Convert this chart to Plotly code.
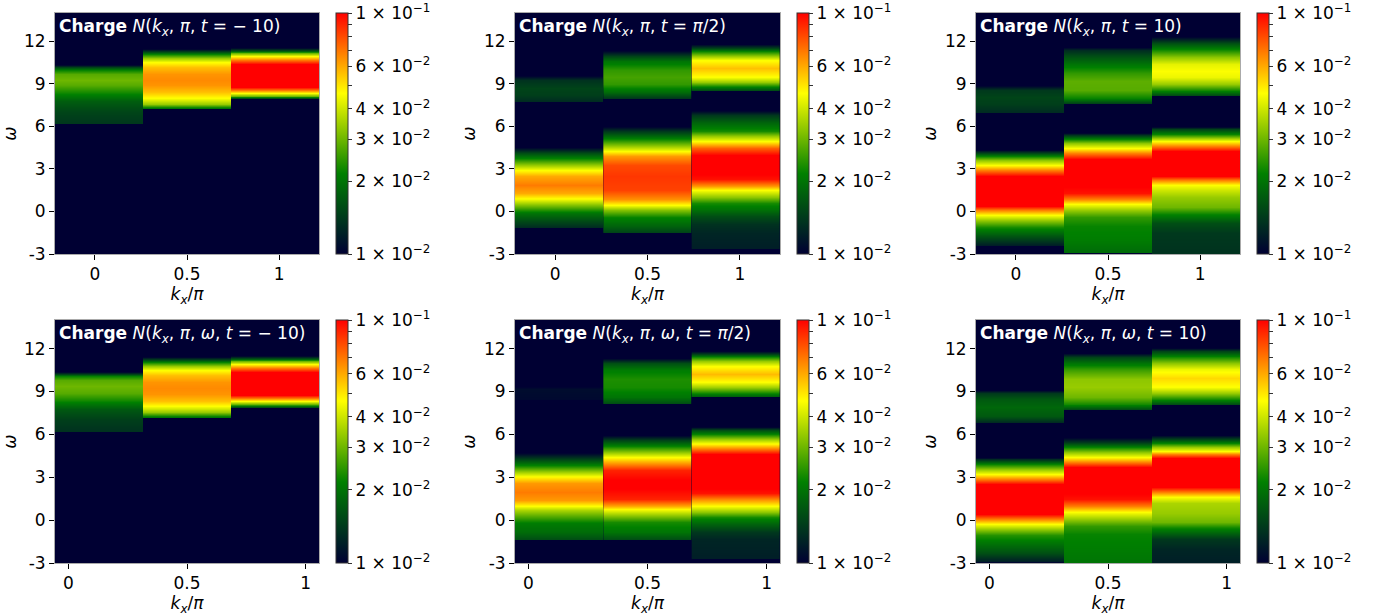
import numpy as np
import plotly.graph_objects as go

# ---------------- data ----------------
KX = [0, 0.5, 1]
KX_TICKTEXT = ["0", "0.5", "1"]
OMEGA_TICKS = [-3, 0, 3, 6, 9, 12]
OMEGA_TICKTEXT = ["-3", "0", "3", "6", "9", "12"]
CBAR_TICKS = [0.01, 0.02, 0.03, 0.04, 0.05, 0.06, 0.07, 0.08, 0.09, 0.1]
CBAR_TICKTEXT = ["1 × 10<sup>−2</sup>", "2 × 10<sup>−2</sup>", "3 × 10<sup>−2</sup>",
                 "4 × 10<sup>−2</sup>", "", "6 × 10<sup>−2</sup>", "", "", "",
                 "1 × 10<sup>−1</sup>"]

TITLES = [
    "<b>Charge</b> <i>N</i>(<i>k</i><sub><i>x</i></sub>, <i>π</i>, <i>t</i> = − 10)",
    "<b>Charge</b> <i>N</i>(<i>k</i><sub><i>x</i></sub>, <i>π</i>, <i>t</i> = <i>π</i>/2)",
    "<b>Charge</b> <i>N</i>(<i>k</i><sub><i>x</i></sub>, <i>π</i>, <i>t</i> = 10)",
    "<b>Charge</b> <i>N</i>(<i>k</i><sub><i>x</i></sub>, <i>π</i>, <i>ω</i>, <i>t</i> = − 10)",
    "<b>Charge</b> <i>N</i>(<i>k</i><sub><i>x</i></sub>, <i>π</i>, <i>ω</i>, <i>t</i> = <i>π</i>/2)",
    "<b>Charge</b> <i>N</i>(<i>k</i><sub><i>x</i></sub>, <i>π</i>, <i>ω</i>, <i>t</i> = 10)",
]

# Profiles N(omega) per panel (P) and kx column (_0: kx=0, _1: 0.5, _2: 1).
# N values are in units of 1e-2 (values below 1 are under the colour floor).
# Panel 1: t = -10
W1_0 = [-3, 6.15, 6.25, 7.0, 7.8, 8.4, 8.9, 9.3, 9.7, 10.0, 10.2, 10.4, 14]
N1_0 = [0.5, 0.5, 1.4, 1.5, 1.75, 2.3, 2.8, 3.0, 2.8, 2.2, 1.5, 0.9, 0.5]
W1_1 = [-3, 7.2, 7.28, 7.6, 8.0, 8.4, 8.9, 9.3, 9.7, 10.2, 10.55, 10.85, 11.1, 11.3, 11.5, 14]
N1_1 = [0.5, 0.5, 2.0, 3.4, 4.6, 5.6, 6.4, 6.6, 6.4, 5.6, 4.6, 3.4, 2.2, 1.4, 0.9, 0.5]
W1_2 = [-3, 7.9, 7.98, 8.15, 8.35, 8.6, 8.8, 9.6, 10.4, 10.7, 10.95, 11.15, 11.35, 11.6, 14]
N1_2 = [0.5, 0.5, 1.6, 3.0, 4.6, 7.0, 10, 13, 10, 7.0, 4.6, 3.0, 1.8, 0.9, 0.5]

# Panel 2: t = pi/2
W2_0 = [-3, -1.2, -1.1, -0.6, -0.1, 0.4, 0.85, 1.3, 1.9, 2.5, 2.9, 3.3, 3.7, 4.1, 4.6,
        7.7, 7.78, 8.2, 8.7, 9.3, 9.7, 14]
N2_0 = [0.5, 0.5, 1.3, 1.6, 2.0, 3.0, 4.5, 6.0, 6.9, 6.0, 4.6, 3.4, 2.3, 1.6, 0.9,
        0.5, 1.3, 1.45, 1.5, 1.35, 0.9, 0.5]
W2_1 = [-3, -1.5, -1.42, -1.0, -0.4, 0.1, 0.45, 0.85, 1.5, 2.5, 3.3, 3.9, 4.3, 4.7, 5.2, 5.7, 6.1,
        7.9, 8.0, 8.4, 9.0, 9.5, 10.0, 10.6, 11.0, 11.45, 14]
N2_1 = [0.5, 0.5, 1.5, 1.8, 2.2, 3.2, 4.6, 6.5, 8.2, 8.5, 8.0, 6.3, 4.6, 3.2, 2.1, 1.4, 0.9,
        0.5, 1.4, 1.9, 2.5, 2.65, 2.5, 2.0, 1.5, 0.9, 0.5]
W2_2 = [-3, -2.75, -2.6, -1.5, -0.9, -0.3, 0.2, 0.6, 1.0, 1.5, 1.8, 2.3, 3.2, 4.0, 4.5, 4.95,
        5.3, 5.7, 6.3, 6.8, 7.2,
        8.5, 8.6, 8.85, 9.15, 9.5, 10.1, 10.7, 11.0, 11.3, 11.55, 11.85, 14]
N2_2 = [0.5, 0.5, 1.2, 1.25, 1.35, 1.6, 2.0, 2.3, 3.3, 4.6, 6.3, 9.5, 11, 10, 7.5, 4.6,
        3.4, 2.3, 1.8, 1.4, 0.9,
        0.5, 1.6, 2.3, 3.4, 4.6, 5.6, 4.6, 3.4, 2.2, 1.5, 0.9, 0.5]

# Panel 3: t = 10
W3_0 = [-3, -2.5, -2.35, -1.8, -1.1, -0.6, -0.25, 0.1, 0.4, 1.5, 2.5, 2.9, 3.25, 3.6, 3.9, 4.25, 4.4,
        6.95, 7.05, 7.6, 8.1, 8.6, 9.0, 14]
N3_0 = [0.5, 0.5, 1.2, 1.6, 2.3, 3.4, 4.6, 6.8, 10, 14, 10, 6.8, 4.6, 3.3, 2.2, 1.2, 0.9,
        0.5, 1.3, 1.45, 1.5, 1.4, 0.9, 0.5]
W3_1 = [-3, -2.9, -2.85, -2.0, -1.0, -0.4, 0.1, 0.5, 0.9, 1.3, 2.5, 3.7, 4.1, 4.45, 4.8, 5.1, 5.4, 5.6,
        7.55, 7.64, 8.0, 8.6, 9.2, 9.8, 10.4, 11.0, 11.4, 11.7, 14]
N3_1 = [0.5, 0.5, 1.9, 2.1, 2.2, 2.5, 3.4, 4.6, 6.8, 9.5, 11, 10, 6.8, 4.6, 3.3, 2.2, 1.4, 0.9,
        0.5, 1.5, 2.2, 2.8, 2.85, 2.5, 2.0, 1.6, 1.3, 0.9, 0.5]
W3_2 = [-3, -1.5, -0.8, -0.2, 0.3, 1.0, 1.5, 1.85, 2.2, 2.5, 3.5, 4.3, 4.6, 4.95, 5.2, 5.5, 5.8, 6.05,
        8.15, 8.25, 8.55, 9.0, 9.5, 9.9, 10.4, 10.9, 11.4, 11.9, 12.45, 14]
N3_2 = [1.35, 1.4, 1.6, 2.2, 3.0, 3.4, 4.0, 4.6, 6.8, 10, 13, 10, 6.8, 4.6, 3.4, 2.2, 1.5, 0.9,
        0.5, 1.6, 2.3, 3.4, 4.4, 4.6, 4.3, 3.3, 2.3, 1.6, 0.9, 0.5]

# Panel 4: omega-resolved, t = -10
W4_0 = [-3, 6.15, 6.25, 7.0, 7.8, 8.4, 8.9, 9.4, 9.8, 10.05, 10.25, 10.45, 14]
N4_0 = [0.5, 0.5, 1.35, 1.45, 1.7, 2.3, 2.8, 3.0, 2.8, 2.2, 1.5, 0.9, 0.5]
W4_1 = [-3, 7.15, 7.23, 7.55, 7.95, 8.35, 8.85, 9.25, 9.65, 10.15, 10.5, 10.8, 11.05, 11.25, 11.45, 14]
N4_1 = [0.5, 0.5, 2.0, 3.4, 4.6, 5.6, 6.4, 6.6, 6.4, 5.6, 4.6, 3.4, 2.2, 1.4, 0.9, 0.5]
W4_2 = [-3, 7.85, 7.93, 8.1, 8.3, 8.55, 8.75, 9.55, 10.35, 10.65, 10.9, 11.1, 11.3, 11.55, 14]
N4_2 = [0.5, 0.5, 1.6, 3.0, 4.6, 7.0, 10, 13, 10, 7.0, 4.6, 3.0, 1.8, 0.9, 0.5]

# Panel 5: omega-resolved, t = pi/2
W5_0 = [-3, -1.45, -1.35, -0.8, -0.2, 0.3, 0.7, 1.0, 1.4, 2.0, 2.6, 3.0, 3.4, 3.8, 4.3, 4.85,
        8.3, 8.5, 9.2, 9.6, 14]
N5_0 = [0.5, 0.5, 1.6, 1.9, 2.1, 2.8, 3.6, 4.6, 6.3, 6.9, 6.3, 4.8, 3.5, 2.3, 1.5, 0.9,
        0.5, 1.05, 1.08, 0.9, 0.5]
W5_1 = [-3, -1.45, -1.35, -0.8, -0.1, 0.3, 0.7, 1.0, 1.5, 2.5, 3.5, 4.0, 4.45, 4.8, 5.2, 5.6, 6.05,
        8.1, 8.2, 8.6, 9.3, 9.9, 10.5, 11.0, 11.4, 14]
N5_1 = [0.5, 0.5, 1.6, 2.0, 2.3, 3.2, 4.4, 6.0, 9.0, 10.5, 9.0, 6.3, 4.6, 3.3, 2.2, 1.5, 0.9,
        0.5, 1.6, 2.0, 2.3, 2.35, 2.1, 1.6, 0.9, 0.5]
W5_2 = [-3, -2.75, -2.63, -1.3, -0.8, -0.3, 0.2, 0.6, 1.0, 1.4, 1.9, 3.2, 4.6, 5.0, 5.35, 5.65,
        6.0, 6.3, 6.6,
        8.6, 8.7, 9.0, 9.3, 9.65, 10.2, 10.8, 11.1, 11.4, 11.65, 11.9, 14]
N5_2 = [0.5, 0.5, 1.2, 1.25, 1.4, 1.8, 2.3, 3.3, 4.6, 6.3, 9.5, 12, 10, 7.0, 4.8, 3.4,
        2.2, 1.6, 0.9,
        0.5, 1.8, 2.6, 3.5, 4.6, 5.7, 4.6, 3.4, 2.3, 1.5, 0.9, 0.5]

# Panel 6: omega-resolved, t = 10
W6_0 = [-3, -2.85, -2.3, -1.6, -1.05, -0.65, -0.3, 0.05, 0.4, 1.5, 2.5, 2.85, 3.2, 3.55, 3.9, 4.25, 4.4,
        6.7, 6.85, 7.3, 7.9, 8.5, 8.9, 9.2, 14]
N6_0 = [0.9, 1.2, 1.6, 2.0, 2.4, 3.4, 4.6, 6.8, 10, 13, 10, 6.8, 4.6, 3.3, 2.2, 1.3, 0.9,
        0.5, 1.3, 1.7, 1.85, 1.7, 1.4, 0.9, 0.5]
W6_1 = [-3, -2.0, -1.0, -0.4, 0.1, 0.55, 1.0, 1.5, 2.5, 3.7, 4.1, 4.45, 4.8, 5.15, 5.5, 5.9,
        7.65, 7.75, 8.1, 8.6, 9.3, 9.9, 10.5, 11.0, 11.4, 11.75, 14]
N6_1 = [2.0, 2.1, 2.2, 2.5, 3.4, 4.6, 6.8, 9.5, 11, 10, 6.8, 4.6, 3.3, 2.2, 1.4, 0.9,
        0.5, 1.6, 2.3, 3.0, 3.4, 3.3, 2.6, 2.0, 1.5, 0.9, 0.5]
W6_2 = [-3, -2.0, -1.3, -0.9, -0.5, -0.1, 0.5, 1.2, 1.6, 1.95, 2.3, 3.3, 4.35, 4.6, 4.85, 5.15,
        5.4, 5.7, 6.0,
        8.0, 8.1, 8.45, 8.9, 9.3, 9.95, 10.6, 11.0, 11.4, 11.8, 12.1, 14]
N6_2 = [1.2, 1.25, 1.4, 1.8, 2.3, 3.0, 3.4, 3.6, 4.6, 6.8, 10, 13, 10, 6.8, 4.6, 3.4,
        2.2, 1.5, 0.9,
        0.5, 1.6, 2.3, 3.4, 4.6, 5.2, 4.4, 3.3, 2.3, 1.5, 0.9, 0.5]

N_UNIT = 1e-2

PROFILES = [
    [(W1_0, N1_0), (W1_1, N1_1), (W1_2, N1_2)],
    [(W2_0, N2_0), (W2_1, N2_1), (W2_2, N2_2)],
    [(W3_0, N3_0), (W3_1, N3_1), (W3_2, N3_2)],
    [(W4_0, N4_0), (W4_1, N4_1), (W4_2, N4_2)],
    [(W5_0, N5_0), (W5_1, N5_1), (W5_2, N5_2)],
    [(W6_0, N6_0), (W6_1, N6_1), (W6_2, N6_2)],
]

# ---------------- layout geometry (pixels) ----------------
FW, FH = 1375, 616
PLOT_X = [(55, 319), (515, 780), (976, 1240)]
CBAR_X = [336, 797, 1257]
PLOT_Y = [(13, 254), (320, 563)]
X_RANGE = [(-0.217, 1.217), (-0.056, 1.056)]
Y_RANGE = (-3, 14)

COLORSCALE = [[0.0, "#000033"], [1 / 3, "#008000"], [2 / 3, "#ffff00"], [1.0, "#ff0000"]]
FONT = "DejaVu Sans"
FS = 17

fig = go.Figure()
layout = dict(
    width=FW, height=FH, margin=dict(l=0, r=0, t=0, b=0, autoexpand=False),
    paper_bgcolor="white", plot_bgcolor="#000033",
    font=dict(family=FONT, size=FS, color="black"),
    showlegend=False, annotations=[],
)

for p in range(6):
    row, col = divmod(p, 3)
    ax = "" if p == 0 else str(p + 1)
    x0, x1 = PLOT_X[col]
    ytop, ybot = PLOT_Y[row]
    dom_x = [x0 / FW, x1 / FW]
    dom_y = [1 - ybot / FH, 1 - ytop / FH]
    xr = X_RANGE[row]
    edges = np.linspace(xr[0], xr[1], len(KX) + 1)

    for c, (w, n) in enumerate(PROFILES[p]):
        assert len(w) == len(n)
        logn = np.log10(np.array(n, dtype=float) * N_UNIT)
        z = [[v, v] for v in logn]
        xb = [edges[c], (edges[c] + edges[c + 1]) / 2, edges[c + 1]]
        fig.add_trace(go.Heatmap(
            x=xb, y=w, z=z, zsmooth="best",
            coloraxis="coloraxis" + ax,
            xaxis="x" + ax, yaxis="y" + ax, hoverinfo="skip",
        ))

    layout["coloraxis" + ax] = dict(
        colorscale=COLORSCALE, cmin=-2, cmax=-1,
        colorbar=dict(
            x=CBAR_X[col] / FW, xanchor="left", xpad=0,
            y=(dom_y[0] + dom_y[1]) / 2, yanchor="middle", ypad=0,
            len=dom_y[1] - dom_y[0], lenmode="fraction",
            thickness=12, thicknessmode="pixels",
            outlinewidth=1, outlinecolor="#333",
            tickmode="array",
            tickvals=[float(np.log10(v)) for v in CBAR_TICKS],
            ticktext=CBAR_TICKTEXT,
            ticks="outside", ticklen=4, tickwidth=1, tickcolor="#333",
            tickfont=dict(family=FONT, size=FS, color="black"),
        ),
    )
    layout["xaxis" + ax] = dict(
        domain=dom_x, range=list(xr), anchor="y" + ax, automargin=False,
        tickmode="array", tickvals=KX, ticktext=KX_TICKTEXT,
        ticks="outside", ticklen=5, tickwidth=1, tickcolor="black",
        showgrid=False, zeroline=False,
        showline=True, mirror=True, linecolor="#aaa", linewidth=1,
        tickfont=dict(size=FS),
        title=dict(text="<i>k</i><sub><i>x</i></sub>/<i>π</i>", font=dict(size=FS), standoff=0),
    )
    layout["yaxis" + ax] = dict(
        domain=dom_y, range=list(Y_RANGE), anchor="x" + ax, automargin=False,
        tickmode="array", tickvals=OMEGA_TICKS, ticktext=OMEGA_TICKTEXT,
        ticks="outside", ticklen=5, tickwidth=1, tickcolor="black",
        showgrid=False, zeroline=False,
        showline=True, mirror=True, linecolor="#aaa", linewidth=1,
        tickfont=dict(size=FS),
        title=dict(text="<i>ω</i>", font=dict(size=FS), standoff=4),
    )
    layout["annotations"].append(dict(
        text=TITLES[p], xref="paper", yref="paper",
        x=(x0 + 2) / FW, y=1 - (ytop + 1) / FH, xanchor="left", yanchor="top",
        showarrow=False, font=dict(family=FONT, size=FS, color="white"),
    ))

fig.update_layout(**layout)
fig.write_html(
    "out.html",
    config={"displayModeBar": False},
    post_script="document.body.style.margin='0';document.body.style.overflow='hidden';",
)
